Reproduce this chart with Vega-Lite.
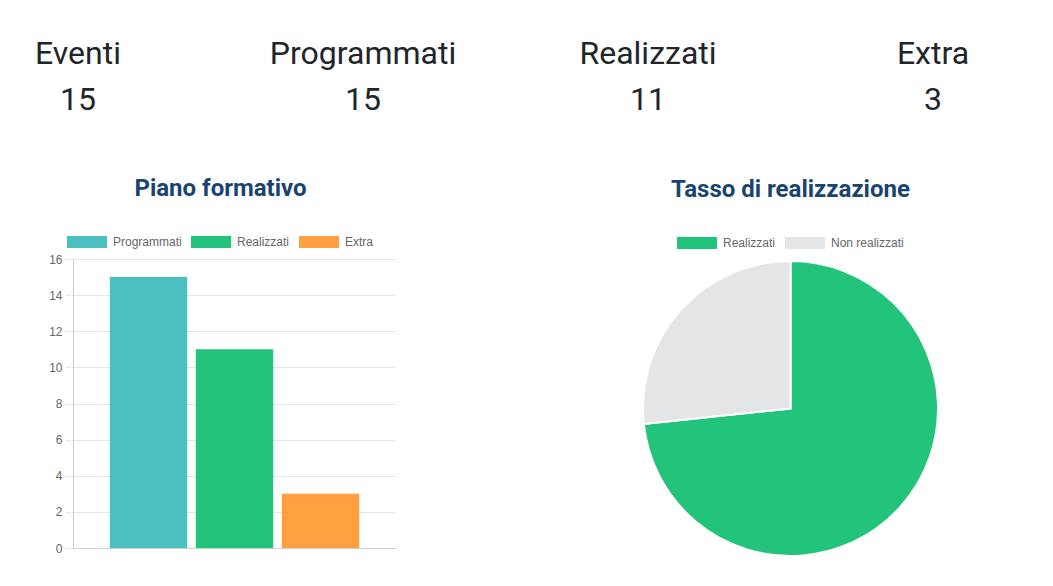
{
  "$schema": "https://vega.github.io/schema/vega-lite/v6.json",
  "description": "Cruscotto del piano formativo: contatori, istogramma e torta del tasso di realizzazione.",
  "padding": 0,
  "background": "white",
  "spacing": 47,
  "config": {
    "view": {"stroke": null},
    "font": "Roboto",
    "title": {"font": "Roboto", "fontSize": 24, "fontWeight": "bold", "color": "#1a4470", "anchor": "middle", "offset": 21},
    "axis": {"labelFont": "Liberation Sans", "labelFontSize": 12, "labelColor": "#666"},
    "legend": {
      "labelFont": "Liberation Sans",
      "labelFontSize": 12,
      "labelColor": "#666",
      "symbolType": "M-1,-0.3H1V0.3H-1Z",
      "symbolSize": 1600,
      "symbolStrokeWidth": 0,
      "symbolOpacity": 1,
      "labelOffset": 6,
      "columnPadding": 9,
      "orient": "top",
      "direction": "horizontal",
      "offset": 10,
      "layout": {"top": {"anchor": "middle"}}
    }
  },
  "vconcat": [
    {
      "width": 865,
      "height": 130,
      "data": {
        "values": [
          {"voce": "Eventi", "valore": 15},
          {"voce": "Programmati", "valore": 15},
          {"voce": "Realizzati", "valore": 11},
          {"voce": "Extra", "valore": 3}
        ]
      },
      "encoding": {
        "x": {"field": "voce", "type": "nominal", "sort": null, "scale": {"type": "point", "padding": 0.01754}, "axis": null}
      },
      "layer": [
        {
          "mark": {"type": "text", "font": "Roboto", "fontSize": 32, "color": "#212529", "dy": -11},
          "encoding": {"text": {"field": "voce"}}
        },
        {
          "mark": {"type": "text", "font": "Roboto", "fontSize": 32, "color": "#212529", "dy": 35},
          "encoding": {"text": {"field": "valore", "type": "quantitative"}}
        }
      ]
    },
    {
      "spacing": 243,
      "resolve": {"scale": {"color": "independent"}, "legend": {"color": "independent"}},
      "hconcat": [
        {
          "title": {"text": "Piano formativo", "dx": -14},
          "width": 323,
          "height": 289,
          "data": {
            "values": [
              {"serie": "Programmati", "valore": 15},
              {"serie": "Realizzati", "valore": 11},
              {"serie": "Extra", "valore": 3}
            ]
          },
          "mark": {"type": "bar"},
          "encoding": {
            "x": {
              "field": "serie",
              "type": "nominal",
              "sort": null,
              "scale": {"paddingInner": 0.1, "paddingOuter": 0.428},
              "axis": {"labels": false, "ticks": false, "title": null, "domainColor": "#d0d0d0", "grid": false}
            },
            "y": {
              "field": "valore",
              "type": "quantitative",
              "scale": {"domain": [0, 16]},
              "axis": {
                "title": null,
                "values": [0, 2, 4, 6, 8, 10, 12, 14, 16],
                "gridColor": "#e5e5e5",
                "tickColor": "#e5e5e5",
                "tickSize": 8,
                "labelPadding": 3,
                "domainColor": "#d0d0d0",
                "minExtent": 73
              }
            },
            "color": {
              "field": "serie",
              "type": "nominal",
              "sort": null,
              "scale": {"domain": ["Programmati", "Realizzati", "Extra"], "range": ["#4bc0c0", "#22c37a", "#ff9f40"]},
              "legend": {"title": null, "orient": "none", "legendX": -6, "legendY": -37}
            }
          }
        },
        {
          "title": "Tasso di realizzazione",
          "width": 295,
          "height": 299,
          "data": {
            "values": [
              {"stato": "Realizzati", "valore": 11},
              {"stato": "Non realizzati", "valore": 4}
            ]
          },
          "mark": {"type": "arc", "stroke": "#fff", "strokeWidth": 2},
          "encoding": {
            "theta": {"field": "valore", "type": "quantitative", "stack": true},
            "order": {"field": "stato", "sort": "descending"},
            "color": {
              "field": "stato",
              "type": "nominal",
              "sort": ["Realizzati", "Non realizzati"],
              "scale": {"domain": ["Realizzati", "Non realizzati"], "range": ["#22c37a", "#e4e5e7"]},
              "legend": {"title": null}
            }
          }
        }
      ]
    }
  ]
}
